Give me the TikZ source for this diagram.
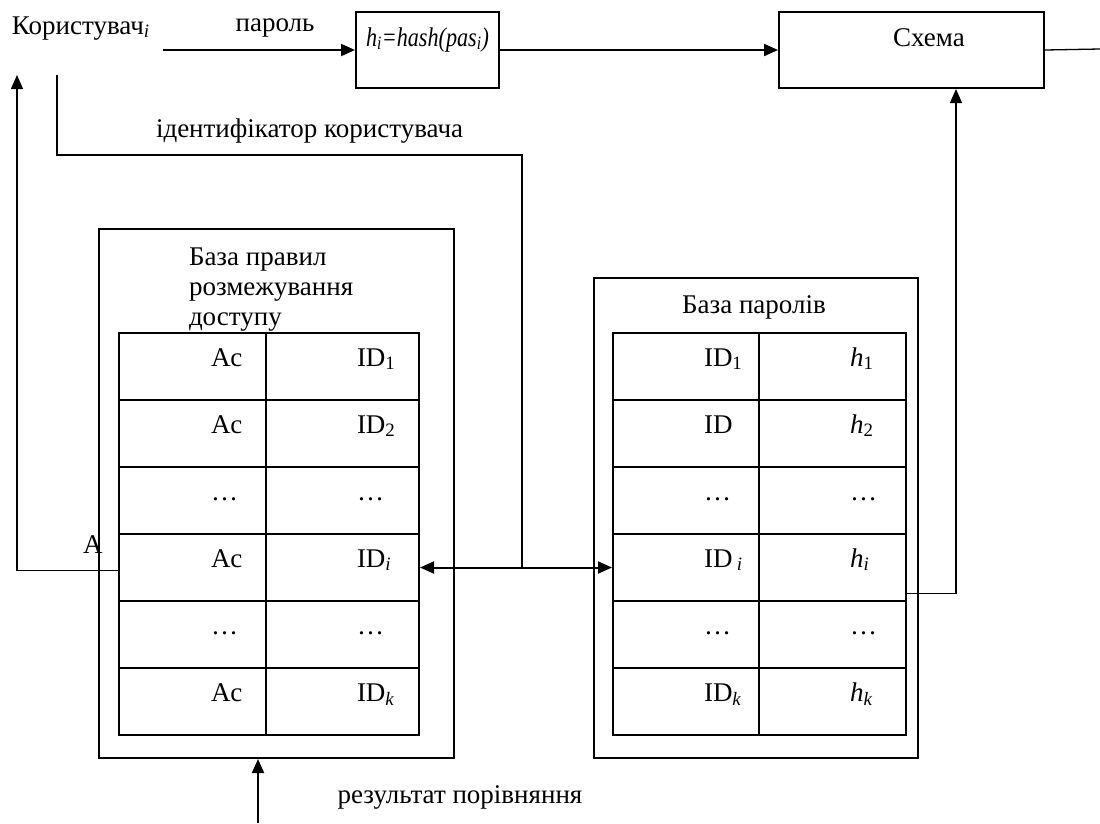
\documentclass[tikz,border=0pt]{standalone}
\usepackage{fontspec}
\setmainfont{Liberation Serif}
\usetikzlibrary{positioning,arrows.meta}

\tikzset{
  blk/.style={draw, anchor=north west, inner sep=0pt},
  cell/.style={draw, anchor=north west, minimum height=67pt, inner sep=0pt},
  txt/.style={anchor=base west, inner sep=0pt},
  thin line/.style={line width=1.3pt},
}

\begin{document}
\begin{tikzpicture}[x=1pt,y=-1pt,line width=2pt,>={Triangle[length=14pt,width=12pt]}]
\fontsize{27}{30}\selectfont
\useasboundingbox (0,0) rectangle (1100,823);

\node[txt] (user) at (11,34) {Користувач\textsubscript{\textit{i}}};
\node[blk, minimum width=143pt, minimum height=76pt, text height=18pt, text depth=26pt] (hash) at (355,11) {\scalebox{0.82}[1]{\textit{h\textsubscript{i}=hash(pas\textsubscript{i})}}};
\node[blk, minimum width=265pt, minimum height=76pt] (scheme) at (778,11) {};
\node[txt] (schemetxt) at (892,46) {Схема};
\node[anchor=base] (pwd) at (275,31) {пароль};
\node[txt] (idlbl) at (155,137) {ідентифікатор користувача};

\coordinate (idsrc) at (57,75);
\coordinate (idturn) at (522,155);
\coordinate (usrin) at (17,75);
\coordinate (out) at (1100,49);
\coordinate (res) at (258,823);

\node[blk, minimum width=355pt, minimum height=529pt] (ldb) at (98,228) {};
\node[txt, anchor=north west, align=left] (ldbtitle) at (188,247) {База правил\\розмежування\\доступу};
\node[blk, minimum width=324pt, minimum height=480pt] (rdb) at (593,277) {};
\node[anchor=base, inner sep=0pt] (rdbtitle) at (754,313) {База паролів};

\foreach \ca/\cb/\cc/\cd [count=\row] in {
  Ac/ID\textsubscript{1}/ID\textsubscript{1}/\textit{h}\textsubscript{1},
  Ac/ID\textsubscript{2}/ID/\textit{h}\textsubscript{2},
  \dots/\dots/\dots/\dots,
  Ac/ID\textsubscript{\textit{i}}/ID\,\textsubscript{\textit{i}}/\textit{h\textsubscript{i}},
  \dots/\dots/\dots/\dots,
  Ac/ID\textsubscript{\textit{k}}/ID\textsubscript{\textit{k}}/\textit{h\textsubscript{k}}}{
  \node[cell, minimum width=147pt] (la\row) at (118,{332+67*(\row-1)}) {};
  \node[cell, minimum width=153pt] (lb\row) at (265,{332+67*(\row-1)}) {};
  \node[cell, minimum width=146pt] (ra\row) at (612,{332+67*(\row-1)}) {};
  \node[cell, minimum width=147pt] (rb\row) at (758,{332+67*(\row-1)}) {};
  \node[txt] (tla\row) at ([shift={(92,34)}]la\row.north west) {\ca};
  \node[txt] (tlb\row) at ([shift={(91,34)}]lb\row.north west) {\cb};
  \node[txt] (tra\row) at ([shift={(91,34)}]ra\row.north west) {\cc};
  \node[txt] (trb\row) at ([shift={(91,34)}]rb\row.north west) {\cd};
}

\node[txt] (alabel) at (82,553) {A};
\node[anchor=base] (reslbl) at (460,803) {результат порівняння};

\draw[->] ([xshift=12pt]user.east |- hash.west) -- (hash.west);
\draw[->] (hash) -- (scheme);
\draw[thin line] (scheme.east) -- (out);
\draw (idsrc) |- (idturn) -- (idturn |- lb4.east);
\draw[<->] (lb4.east) -- (ra4.west);
\draw[->, thin line] ([yshift=-26pt]rb4.east) -| ([xshift=44.5pt]scheme.south);
\draw[->, thin line] ([yshift=-3pt]la4.west) -| (usrin);
\draw[->] (res) -- (res |- ldb.south);
\end{tikzpicture}
\end{document}
